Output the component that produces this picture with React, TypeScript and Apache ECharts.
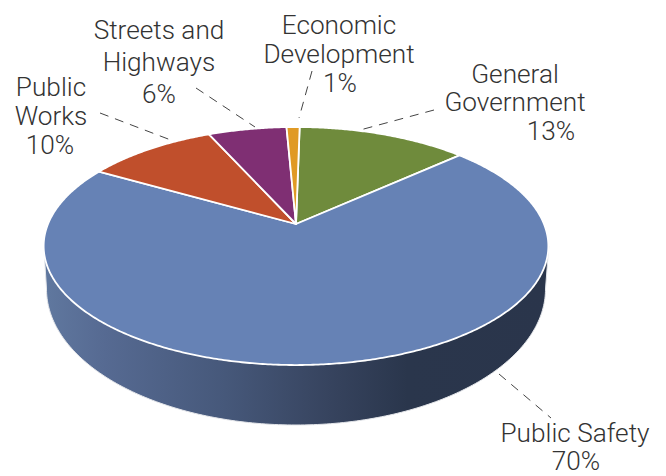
import React, { useEffect, useRef } from "react";
import * as echarts from "echarts";

// Budget shares in percent, clockwise from the top of the pie.
const categories = [
  ["General", "Government"],
  ["Public Safety"],
  ["Public", "Works"],
  ["Streets and", "Highways"],
  ["Economic", "Development"],
];
const values = [13, 70, 10, 6, 1];
const sliceColors = ["#6F8B3C", "#6682B5", "#C04F2C", "#7F2F73", "#E09A25"];

// Disc projection: a unit circle seen in perspective.
const CX = 296;
const CY = 224;
const RADIUS = 248;
const TILT = 0.185; // perspective strength
const FORESHORTEN = -73.5;
const START_DEG = 1;

// Rim of the disc and the lower edge of the wall below it.
const RIM = { cx: 296.3, cy: 246, rx: 252.5, ry: 119 };
const BASE = { cx: 296, cy: 289, rx: 249.5, ry: 136 };

const project = (deg: number): number[] => {
  const a = (deg * Math.PI) / 180;
  const u = Math.sin(a);
  const v = Math.cos(a);
  const w = 1 + TILT * v;
  return [CX + (RADIUS * u) / w, (FORESHORTEN * v + CY) / w];
};

const wedgePoints = (fromDeg: number, toDeg: number): number[][] => {
  const pts: number[][] = [[CX, CY]];
  const steps = Math.max(2, Math.ceil((toDeg - fromDeg) * 2));
  for (let i = 0; i <= steps; i++) pts.push(project(fromDeg + ((toDeg - fromDeg) * i) / steps));
  return pts;
};

const wallPoints = (): number[][] => {
  const pts: number[][] = [[RIM.cx - RIM.rx, RIM.cy]];
  for (let d = 180; d >= 0; d -= 1) {
    const a = (d * Math.PI) / 180;
    pts.push([BASE.cx + BASE.rx * Math.cos(a), BASE.cy + BASE.ry * Math.sin(a)]);
  }
  pts.push([RIM.cx + RIM.rx, RIM.cy]);
  return pts;
};

const wallGradient = new echarts.graphic.LinearGradient(0, 0, 1, 0, [
  { offset: 0, color: "#60789F" },
  { offset: 0.12, color: "#566A92" },
  { offset: 0.36, color: "#46587A" },
  { offset: 0.56, color: "#37445F" },
  { offset: 0.72, color: "#2A364C" },
  { offset: 1, color: "#2A354B" },
]);

const TOTAL = values.reduce((s, v) => s + v, 0);
const WALL_SLICE = values.indexOf(Math.max(...values));

const renderSlice = (params: any, api: any) => {
  const i = params.dataIndex;
  const before = values.slice(0, i).reduce((s, v) => s + v, 0);
  const from = START_DEG + (before / TOTAL) * 360;
  const to = from + (api.value(0) / TOTAL) * 360;
  const top = {
    type: "polygon",
    shape: { points: wedgePoints(from, to) },
    style: { fill: sliceColors[i], stroke: "#FFFFFF", lineWidth: 1.8, lineJoin: "round" },
  };
  if (i !== WALL_SLICE) return top;
  return {
    type: "group",
    children: [
      {
        type: "polygon",
        shape: { points: wallPoints() },
        style: { fill: wallGradient, stroke: "#E4E6EA", lineWidth: 1 },
      },
      top,
    ],
  };
};

// Where each category's label lines and leader sit around the pie.
const labelSpots = [
  { xs: [515, 515], pctX: 551, ys: [73.5, 102, 131], leader: [434, 110, 349, 133] },
  { xs: [575], pctX: 576, ys: [432.5, 460.5], leader: [499, 374, 551, 418] },
  { xs: [51, 51], pctX: 50, ys: [87, 116, 145], leader: [100, 113, 176, 142] },
  { xs: [159, 159], pctX: 159, ys: [30, 62, 94], leader: [196, 88, 255, 127] },
  { xs: [339, 339], pctX: 340, ys: [25, 54, 83], leader: [312, 71, 299, 118] },
];

const labelFont = {
  fontFamily: "Roboto",
  fontSize: 26.2,
  fontWeight: 300,
  fill: "#333333",
  align: "center",
  verticalAlign: "middle",
};

const buildLabels = () => {
  const out: any[] = [];
  categories.forEach((lines, i) => {
    const spot = labelSpots[i];
    lines.forEach((line, k) => {
      out.push({
        type: "text",
        x: spot.xs[k],
        y: spot.ys[k],
        style: { ...labelFont, text: line },
      });
    });
    out.push({
      type: "text",
      x: spot.pctX,
      y: spot.ys[lines.length],
      style: { ...labelFont, text: `${values[i]}%` },
    });
    const [x1, y1, x2, y2] = spot.leader;
    out.push({
      type: "line",
      shape: { x1, y1, x2, y2 },
      style: { stroke: "#444444", lineWidth: 1, lineDash: [9, 7] },
    });
  });
  return out;
};

export default function App() {
  const ref = useRef<HTMLDivElement>(null);
  useEffect(() => {
    const chart = echarts.init(ref.current, null, { renderer: "svg" });
    chart.setOption({
      animation: false,
      backgroundColor: "#FFFFFF",
      series: [
        {
          type: "custom",
          coordinateSystem: "none",
          silent: true,
          data: values.map((v) => [v]),
          renderItem: renderSlice,
        },
      ],
      graphic: buildLabels(),
    });
    return () => chart.dispose();
  }, []);
  return <div ref={ref} style={{ position: "fixed", left: 0, top: 0, width: 666, height: 476 }} />;
}
